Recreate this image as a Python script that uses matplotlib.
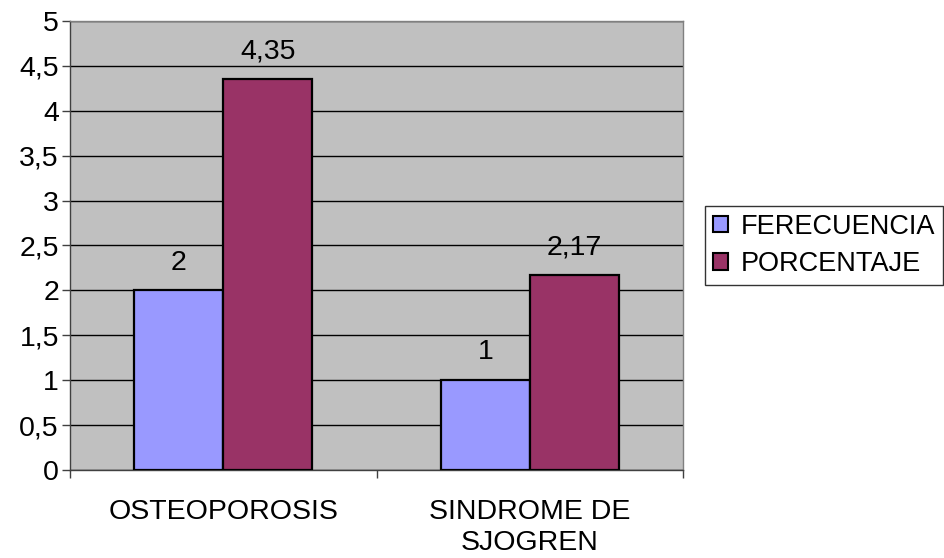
import matplotlib.pyplot as plt
import numpy as np

plt.rcParams['font.family'] = ['Liberation Sans', 'DejaVu Sans']

categorias = ['OSTEOPOROSIS', 'SINDROME DE\nSJOGREN']
frecuencia = [2, 1]
porcentaje = [4.35, 2.17]
etiquetas_frec = ['2', '1']
etiquetas_porc = ['4,35', '2,17']
series = ['FERECUENCIA', 'PORCENTAJE']
y_ticks = [0, 0.5, 1, 1.5, 2, 2.5, 3, 3.5, 4, 4.5, 5]
y_labels = ['0', '0,5', '1', '1,5', '2', '2,5', '3', '3,5', '4', '4,5', '5']

fs = 20.5
fig = plt.figure(figsize=(9.44, 5.58), dpi=100)
ax = fig.add_axes([0.0742, 0.1577, 0.6494, 0.8047])
ax.set_facecolor('#C0C0C0')

x = np.arange(len(categorias))
w = 0.29
b1 = ax.bar(x - w/2, frecuencia, w, color='#9999FF', edgecolor='black',
            linewidth=1.6, label=series[0], zorder=3)
b2 = ax.bar(x + w/2, porcentaje, w, color='#993366', edgecolor='black',
            linewidth=1.6, label=series[1], zorder=3)

for bars, labs in ((b1, etiquetas_frec), (b2, etiquetas_porc)):
    for r, t in zip(bars, labs):
        ax.annotate(t, (r.get_x() + r.get_width()/2, r.get_height()),
                    xytext=(0, 15), textcoords='offset points',
                    ha='center', va='baseline', fontsize=fs)

ax.set_xlim(-0.5, 1.5)
ax.set_ylim(0, 5)
ax.set_yticks(y_ticks)
ax.set_yticklabels(y_labels, fontsize=fs)
ax.yaxis.grid(True, color='black', linewidth=1.0, zorder=0)
ax.set_axisbelow(True)

ax.set_xticks(x)
ax.set_xticklabels(categorias, fontsize=fs, linespacing=1.25)
ax.set_xticks([-0.5, 0.5, 1.5], minor=True)
ax.tick_params(axis='x', which='major', length=0, pad=21)
ax.tick_params(axis='x', which='minor', length=6, width=1, color='#404040')
ax.tick_params(axis='y', length=6, width=1, color='#404040', pad=2)

for s in ('top', 'right'):
    ax.spines[s].set_color('#808080')
for s in ('left', 'bottom'):
    ax.spines[s].set_color('#404040')
for s in ax.spines.values():
    s.set_linewidth(1.0)

leg = fig.legend(loc='center left', bbox_to_anchor=(0.747, 0.56),
                 fontsize=19.5, frameon=True, fancybox=False, shadow=False,
                 handlelength=0.55, handleheight=0.55, handletextpad=0.45,
                 borderpad=0.3, labelspacing=0.42, borderaxespad=0)
leg.get_frame().set_edgecolor('black')
leg.get_frame().set_linewidth(1.0)
for h in leg.legend_handles:
    h.set_linewidth(1.5)

fig.savefig('out.png', dpi=100)
